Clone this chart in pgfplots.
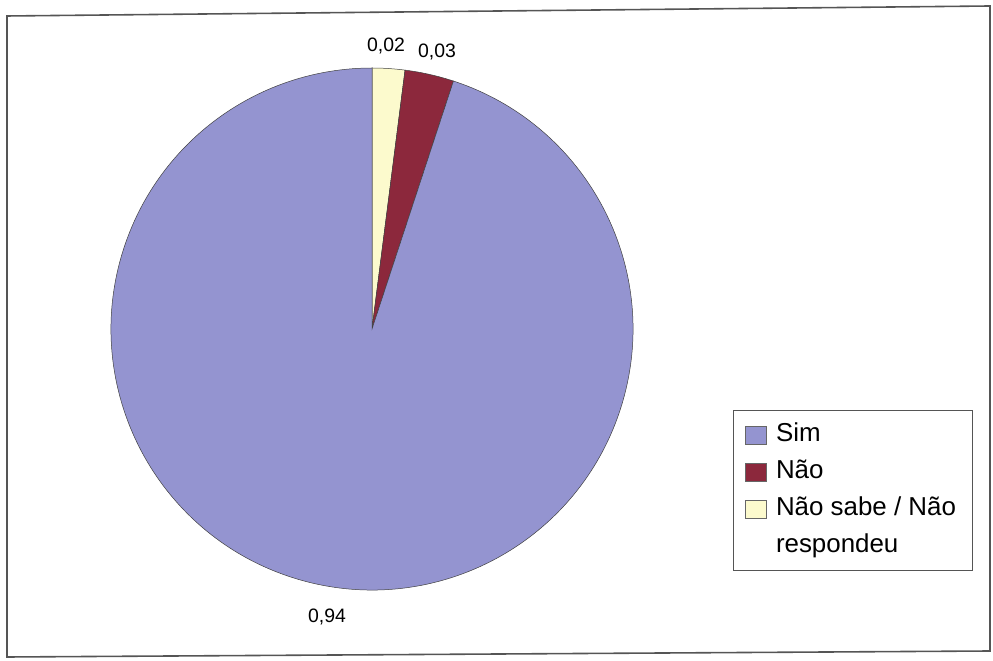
\documentclass[border=0pt]{standalone}
\usepackage{fontspec}
\setmainfont{Liberation Sans}
\usepackage{pgfplots}
\usepackage{pgfplotstable}
\pgfplotsset{compat=1.18}

\definecolor{simc}{RGB}{148,148,208}
\definecolor{naoc}{RGB}{140,40,60}
\definecolor{nsc}{RGB}{252,250,205}
\definecolor{framec}{RGB}{85,85,85}

% share of answers
\pgfplotstableread[col sep=comma]{
label,value
Sim,0.94
Nao,0.03
NaoSabe,0.02
}\piedata

\pgfplotstablegetelem{0}{value}\of\piedata \let\vSim\pgfplotsretval
\pgfplotstablegetelem{1}{value}\of\piedata \let\vNao\pgfplotsretval
\pgfplotstablegetelem{2}{value}\of\piedata \let\vNs\pgfplotsretval

% slice angles, clockwise from 12 o'clock
\pgfmathsetmacro\total{\vSim+\vNao+\vNs}
\pgfmathsetmacro\aA{90}
\pgfmathsetmacro\aB{\aA-360*\vNs/\total}
\pgfmathsetmacro\aC{\aB-360*\vNao/\total}
\pgfmathsetmacro\aD{\aC-360*\vSim/\total}

\begin{document}
\begin{tikzpicture}
\begin{axis}[
  at={(0,0)}, anchor=south west,
  width=993bp, height=661bp, scale only axis,
  xmin=0, xmax=993, ymin=0, ymax=661,
  hide axis, clip=false,
  legend style={
    at={(axis cs:733,251)}, anchor=north west,
    draw=framec, line width=0.8pt,
    font=\fontsize{26}{30}\selectfont,
    inner xsep=12bp, inner ysep=10bp,
    row sep=8bp,
    /tikz/every odd column/.append style={column sep=5bp},
    nodes={inner xsep=4bp, inner ysep=2bp, text height=19bp, text depth=6bp},
  },
  legend cell align=left,
  legend image code/.code={\draw[#1, line width=0.6pt] (0bp,-9bp) rectangle (21bp,9bp);},
]
  \coordinate (BL) at (axis cs:0,0);
  \coordinate (TR) at (axis cs:993,661);

  % outer frame
  \draw[framec, line width=1.6pt] (axis cs:7,645) -- (axis cs:990,655) -- (axis cs:990,10) -- (axis cs:7,4) -- cycle;

  % slices
  \filldraw[fill=nsc, draw=black!75, line width=0.5pt]
    (axis cs:372,332) -- ++(\aA:261bp) arc[start angle=\aA, end angle=\aB, radius=261bp] -- cycle;
  \filldraw[fill=naoc, draw=black!75, line width=0.5pt]
    (axis cs:372,332) -- ++(\aB:261bp) arc[start angle=\aB, end angle=\aC, radius=261bp] -- cycle;
  \filldraw[fill=simc, draw=black!75, line width=0.5pt]
    (axis cs:372,332) -- ++(\aC:261bp) arc[start angle=\aC, end angle=\aD, radius=261bp] -- cycle;

  % value labels
  \node[font=\fontsize{19.5}{22}\selectfont] at (axis cs:386,615) {0,02};
  \node[font=\fontsize{19.5}{22}\selectfont] at (axis cs:437,609) {0,03};
  \node[font=\fontsize{19.5}{22}\selectfont] at (axis cs:327,44) {0,94};

  \addlegendimage{fill=simc, draw=black!60}
  \addlegendentry{Sim}
  \addlegendimage{fill=naoc, draw=black!60}
  \addlegendentry{Não}
  \addlegendimage{fill=nsc, draw=black!60}
  \addlegendentry{Não sabe / Não}
  \addlegendimage{empty legend}
  \addlegendentry{respondeu}
\end{axis}
\pgfresetboundingbox
\path[use as bounding box] (BL) rectangle (TR);
\end{tikzpicture}
\end{document}
